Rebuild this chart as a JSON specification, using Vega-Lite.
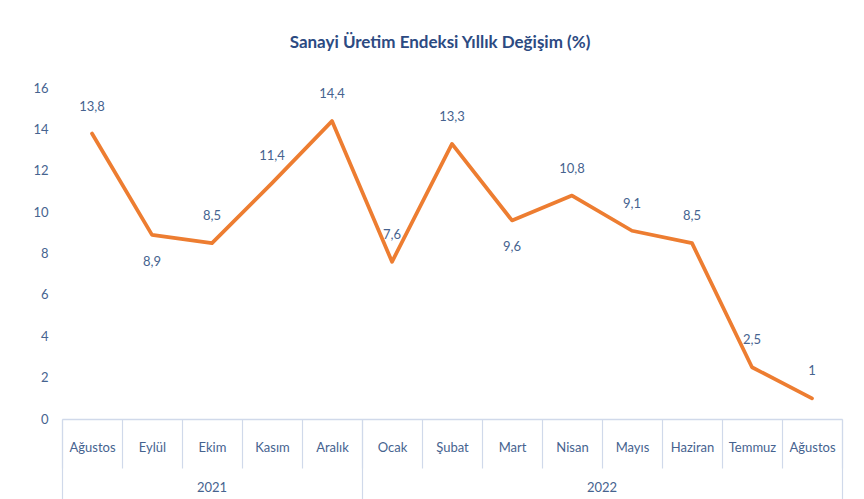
{
  "$schema": "https://vega.github.io/schema/vega-lite/v6.json",
  "autosize": {"type": "none"},
  "padding": {"left": 62, "top": 88, "right": 22, "bottom": 80},
  "width": 780,
  "height": 331,
  "background": "white",
  "title": {
    "text": "Sanayi Üretim Endeksi Yıllık Değişim (%)",
    "font": "Lato",
    "fontSize": 17,
    "fontWeight": "bold",
    "color": "#2C4A82",
    "frame": "group",
    "anchor": "middle",
    "dx": -12,
    "offset": 30
  },
  "config": {
    "locale": {"number": {"decimal": ",", "thousands": ".", "grouping": [3], "currency": ["", " TL"]}},
    "view": {"stroke": null},
    "axis": {"labelFont": "Lato", "labelColor": "#46638F", "labelFontSize": 13, "grid": false}
  },
  "data": {
    "values": [
      {"ay": "Ağustos 2021", "deger": 13.8},
      {"ay": "Eylül 2021", "deger": 8.9},
      {"ay": "Ekim 2021", "deger": 8.5},
      {"ay": "Kasım 2021", "deger": 11.4},
      {"ay": "Aralık 2021", "deger": 14.4},
      {"ay": "Ocak 2022", "deger": 7.6},
      {"ay": "Şubat 2022", "deger": 13.3},
      {"ay": "Mart 2022", "deger": 9.6},
      {"ay": "Nisan 2022", "deger": 10.8},
      {"ay": "Mayıs 2022", "deger": 9.1},
      {"ay": "Haziran 2022", "deger": 8.5},
      {"ay": "Temmuz 2022", "deger": 2.5},
      {"ay": "Ağustos 2022", "deger": 1}
    ]
  },
  "resolve": {"axis": {"x": "independent"}},
  "layer": [
    {
      "mark": {"type": "line", "color": "#ED7D31", "strokeWidth": 3.75, "strokeJoin": "round", "strokeCap": "round"},
      "encoding": {
        "x": {
          "field": "ay", "type": "ordinal", "sort": null, "bandPosition": 0.5,
          "scale": {"type": "band", "paddingInner": 0, "paddingOuter": 0},
          "axis": {
            "orient": "bottom", "title": null, "labelAngle": 0,
            "labelExpr": "split(datum.label, ' ')[0]",
            "domainColor": "#D0D9EA", "domainWidth": 1.5,
            "tickBand": "extent", "tickSize": 49, "tickColor": "#D0D9EA", "tickWidth": 1.2,
            "labelPadding": -27, "labelBaseline": "top"
          }
        },
        "y": {
          "field": "deger", "type": "quantitative",
          "scale": {"domain": [0, 16], "nice": false},
          "axis": {"title": null, "values": [0, 2, 4, 6, 8, 10, 12, 14, 16], "domain": false, "ticks": false, "labelPadding": 14}
        }
      }
    },
    {
      "transform": [{"filter": "datum.ay != 'Eylül 2021' && datum.ay != 'Mart 2022'"}],
      "mark": {"type": "text", "font": "Lato", "fontSize": 13, "color": "#46638F", "dy": -27, "baseline": "middle"},
      "encoding": {
        "x": {
          "field": "ay", "type": "ordinal", "sort": null, "bandPosition": 0.5,
          "axis": {
            "orient": "bottom", "title": null, "labelAngle": 0, "domain": false,
            "values": ["Ağustos 2021", "Ocak 2022"],
            "labelExpr": "split(datum.label, ' ')[1]",
            "bandPosition": 0,
            "tickSize": 80, "tickColor": "#D0D9EA", "tickWidth": 1.2,
            "labelOffset": {"condition": {"test": "datum.value == 'Ağustos 2021'", "value": 120}, "value": 210},
            "labelPadding": -18, "labelBaseline": "top"
          }
        },
        "y": {"field": "deger", "type": "quantitative"},
        "text": {"field": "deger", "type": "quantitative", "format": ".1~f"}
      }
    },
    {
      "transform": [{"filter": "datum.ay == 'Eylül 2021' || datum.ay == 'Mart 2022'"}],
      "mark": {"type": "text", "font": "Lato", "fontSize": 13, "color": "#46638F", "dy": 27, "baseline": "middle"},
      "encoding": {
        "x": {
          "field": "ay", "type": "ordinal", "sort": null, "bandPosition": 0.5,
          "axis": {
            "orient": "bottom", "title": null, "domain": false, "labels": false,
            "values": ["Ağustos 2022"], "bandPosition": 1,
            "tickSize": 80, "tickColor": "#D0D9EA", "tickWidth": 1.2
          }
        },
        "y": {"field": "deger", "type": "quantitative"},
        "text": {"field": "deger", "type": "quantitative", "format": ".1~f"}
      }
    }
  ]
}
